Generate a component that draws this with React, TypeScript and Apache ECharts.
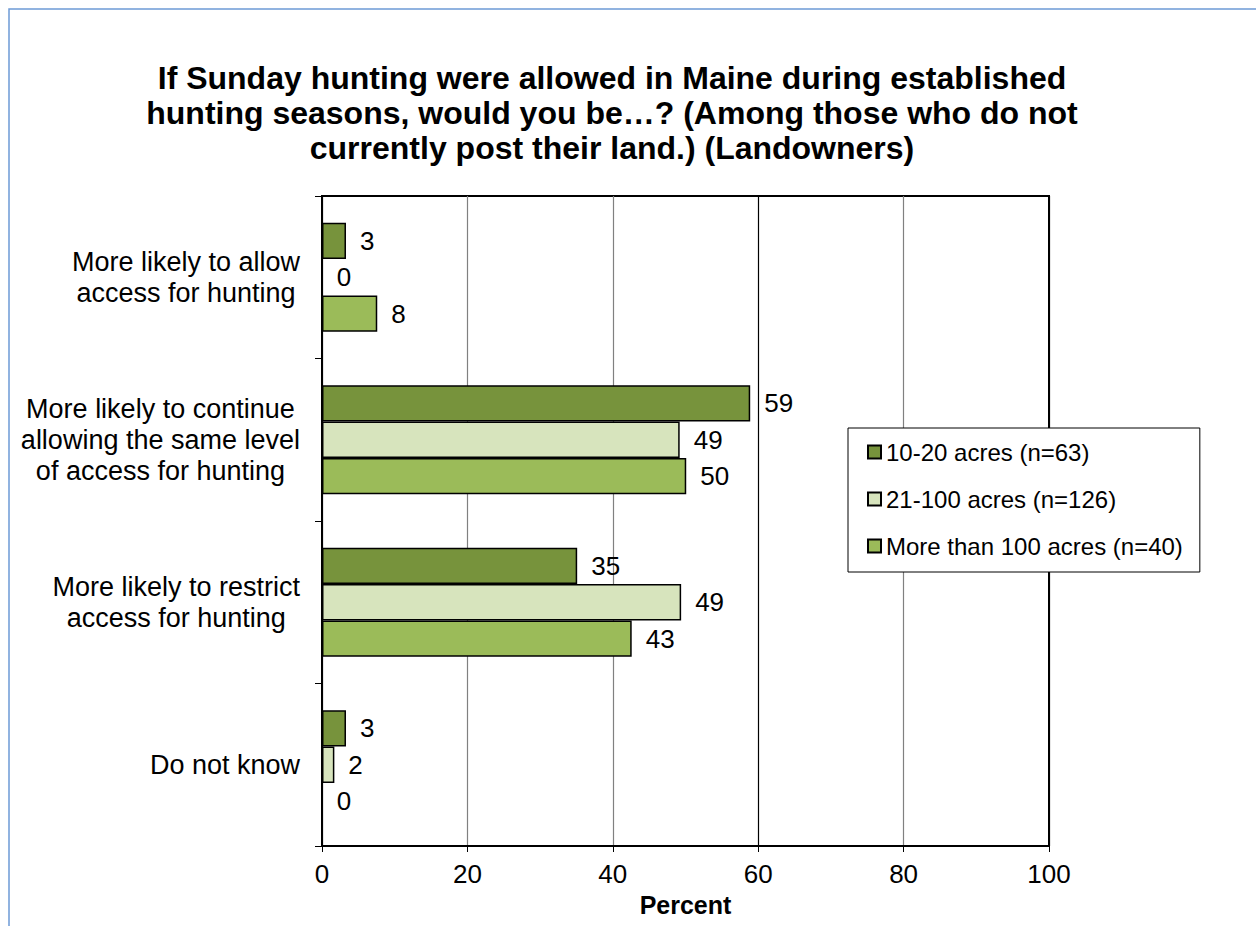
import React, { useEffect, useRef } from "react";
import * as echarts from "echarts";

const categories = [
  "More likely to allow\naccess for hunting",
  "More likely to continue\nallowing the same level\nof access for hunting",
  "More likely to restrict\naccess for hunting",
  "Do not know",
];
const seriesNames = ["10-20 acres (n=63)", "21-100 acres (n=126)", "More than 100 acres (n=40)"];
const acres10to20 = [3.3, 58.9, 35.1, 3.3];
const acres21to100 = [0, 49.2, 49.4, 1.7];
const acresOver100 = [7.6, 50.1, 42.6, 0];
const xTicks = [0, 20, 40, 60, 80, 100];
const colors = ["#77933c", "#d7e4bd", "#9bbb59"];
const titleText =
  "If Sunday hunting were allowed in Maine during established\nhunting seasons, would you be\u2026? (Among those who do not\ncurrently post their land.) (Landowners)";

const FONT = "'Liberation Sans', Arial, sans-serif";

export default function App() {
  const ref = useRef<HTMLDivElement>(null);
  useEffect(() => {
    if (!ref.current) return;
    const chart = echarts.init(ref.current, null, { renderer: "svg" });
    const values = [acres10to20, acres21to100, acresOver100];
    const series = values.map((d, i) => ({
      name: seriesNames[i],
      type: "bar",
      data: d,
      barGap: "0%",
      barCategoryGap: "33%",
      itemStyle: { color: colors[i], borderColor: "#000", borderWidth: 1.5 },
      label: {
        show: true,
        position: "right",
        distance: 14,
        color: "#000",
        fontSize: 26,
        fontFamily: FONT,
        formatter: (p: any) => String(Math.round(p.value)),
      },
    }));
    chart.setOption({
      animation: false,
      backgroundColor: "#fff",
      textStyle: { fontFamily: FONT },
      title: {
        text: titleText,
        left: 612,
        textAlign: "center",
        top: 60,
        padding: 0,
        textStyle: { fontSize: 32, fontWeight: "bold", lineHeight: 35, color: "#000", fontFamily: FONT },
      },
      graphic: [
        {
          type: "rect",
          shape: { x: 9, y: 9, width: 1400, height: 1100 },
          style: { fill: "none", stroke: "#6d9bd6", lineWidth: 1.5 },
          silent: true,
          z: -1,
        },
      ],
      legend: {
        orient: "vertical",
        left: 848,
        top: 428,
        padding: [12, 17, 14, 19],
        itemGap: 23,
        itemWidth: 13,
        itemHeight: 13,
        icon: "rect",
        backgroundColor: "#fff",
        borderColor: "#000",
        borderWidth: 1,
        textStyle: { fontSize: 24, lineHeight: 24, color: "#000", fontFamily: FONT },
        data: seriesNames,
      },
      grid: {
        left: 322,
        top: 196,
        width: 727,
        height: 650,
        show: true,
        borderColor: "#000",
        borderWidth: 2,
        containLabel: false,
      },
      xAxis: {
        type: "value",
        min: xTicks[0],
        max: xTicks[xTicks.length - 1],
        interval: 20,
        axisLine: { show: true, lineStyle: { color: "#000", width: 2 } },
        axisTick: { show: true, length: 6, lineStyle: { color: "#000" } },
        axisLabel: { fontSize: 26, color: "#000", margin: 15, fontFamily: FONT },
        splitLine: {
          show: true,
          lineStyle: { color: ["#000", "#808080", "#808080", "#000", "#808080", "#000"], width: 1.2 },
        },
        name: "Percent",
        nameLocation: "middle",
        nameGap: 46,
        nameTextStyle: { fontSize: 25, fontWeight: "bold", color: "#000", fontFamily: FONT },
      },
      yAxis: {
        type: "category",
        inverse: true,
        data: categories,
        axisLine: { show: true, lineStyle: { color: "#000", width: 2 } },
        axisTick: { show: true, length: 7, lineStyle: { color: "#000" } },
        axisLabel: {
          margin: 22,
          color: "#000",
          fontSize: 27,
          lineHeight: 31,
          fontFamily: FONT,
          formatter: (v: string) =>
            v
              .split("\n")
              .map((l) => "{c|" + l + "}")
              .join("\n"),
          rich: {
            c: { align: "center", fontSize: 27, lineHeight: 31, color: "#000", fontFamily: FONT },
          },
        },
        splitLine: { show: false },
      },
      series,
    });
    return () => chart.dispose();
  }, []);
  return (
    <div
      ref={ref}
      style={{ position: "fixed", left: 0, top: 0, width: 1256, height: 926, background: "#fff" }}
    />
  );
}
